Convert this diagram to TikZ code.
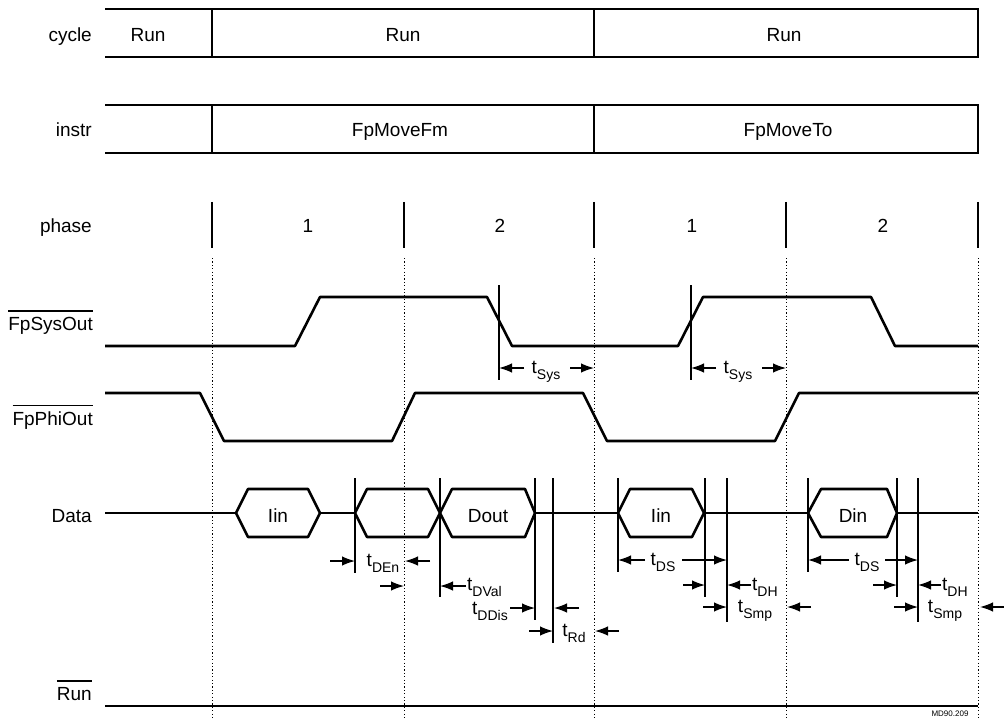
\documentclass[tikz,border=0pt]{standalone}
\usepackage{fontspec}
\setmainfont{Liberation Sans}
\usetikzlibrary{arrows.meta}
\newcommand{\ts}[1]{t\raisebox{-0.36em}{\fontsize{14}{14}\selectfont #1}}
\newcommand{\ovl}[1]{\vbox{\hrule height 1.5pt\kern 5pt\hbox{#1}}}
\begin{document}
\begin{tikzpicture}[x=1pt,y=-1pt,
  font=\fontsize{19}{22}\selectfont,
  sig/.style={line width=2.6pt, line join=round},
  frame/.style={line width=2.1pt},
  tick/.style={line width=2.3pt},
  mk/.style={line width=1.2pt},
  dots/.style={line width=0.9pt, dash pattern=on 1.2pt off 2.2pt},
  dim/.style={line width=1.3pt, -{Latex[length=13pt,width=9.5pt]}},
  lab/.style={anchor=base east, inner sep=0pt},
  txt/.style={anchor=base, inner sep=0pt}]
\useasboundingbox (0,0) rectangle (1004,722);

% row labels
\node[lab] (lcycle) at (92,42) {cycle};
\node[lab] (linstr) at (92,137) {instr};
\node[lab] (lphase) at (92,233) {phase};
\node[lab] (lsys) at (93,330) {\ovl{FpSysOut}};
\node[lab] (lphi) at (93,425) {\ovl{FpPhiOut}};
\node[lab] (ldata) at (92,522) {Data};
\node[lab] (lrun) at (92,700) {\ovl{Run}};

% cycle row
\draw[frame] (105,9) -- (978,9) -- (978,57) -- (105,57);
\draw[frame] (212,9) -- (212,57) (594,9) -- (594,57);
\node[txt] (c1) at (148,42) {Run};
\node[txt] (c2) at (403,42) {Run};
\node[txt] (c3) at (784,42) {Run};

% instr row
\draw[frame] (105,105) -- (978,105) -- (978,153) -- (105,153);
\draw[frame] (212,105) -- (212,153) (594,105) -- (594,153);
\node[txt] (i1) at (400,137) {FpMoveFm};
\node[txt] (i2) at (788,137) {FpMoveTo};

% phase row
\foreach \x in {212,404,594,786,978} \draw[tick] (\x,202) -- (\x,248);
\node[txt] (p1) at (308,233) {1};
\node[txt] (p2) at (500,233) {2};
\node[txt] (p3) at (692,233) {1};
\node[txt] (p4) at (883,233) {2};

% dotted guides
\foreach \x in {212,404,594,786,978} \draw[dots] (\x,258) -- (\x,720);

% FpSysOut
\draw[sig] (105,346) -- (295,346) -- (320,297) -- (487,297) -- (512,346) -- (678,346) -- (703,297) -- (871,297) -- (895,346) -- (978,346);
% FpPhiOut
\draw[sig] (105,393) -- (200,393) -- (224,441) -- (392,441) -- (415,393) -- (583,393) -- (607,441) -- (775,441) -- (799,393) -- (978,393);

% tSys
\draw[mk] (499,285) -- (499,380) (691,285) -- (691,380);
\node[txt] (tsys1) at (546,373) {\ts{Sys}};
\draw[dim] (524,368) -- (499,368);
\draw[dim] (570,368) -- (594,368);
\node[txt] (tsys2) at (738,373) {\ts{Sys}};
\draw[dim] (716,368) -- (691,368);
\draw[dim] (762,368) -- (786,368);

% Data
\draw[sig] (105,513) -- (236,513) (320,513) -- (355,513) (535,513) -- (618,513) (704,513) -- (808,513) (897,513) -- (978,513);
\draw[sig] (236,513) -- (248,489) -- (308,489) -- (320,513) -- (308,537) -- (248,537) -- cycle;
\draw[sig] (355,513) -- (367,489) -- (428,489) -- (440,513) -- (428,537) -- (367,537) -- cycle;
\draw[sig] (440,513) -- (452,489) -- (525,489) -- (535,513) -- (525,537) -- (452,537) -- cycle;
\draw[sig] (618,513) -- (630,489) -- (692,489) -- (704,513) -- (692,537) -- (630,537) -- cycle;
\draw[sig] (808,513) -- (821,489) -- (887,489) -- (897,513) -- (887,537) -- (821,537) -- cycle;
\node[txt] (d1) at (278,522) {Iin};
\node[txt] (d2) at (488,522) {Dout};
\node[txt] (d3) at (661,522) {Iin};
\node[txt] (d4) at (853,522) {Din};

% timing markers
\draw[mk] (355,478) -- (355,573) (440,478) -- (440,597) (535,478) -- (535,620) (553,478) -- (553,643)
          (618,478) -- (618,572) (705,478) -- (705,597) (727,478) -- (727,622)
          (808,478) -- (808,572) (897,478) -- (897,597) (918,478) -- (918,622);

% tDEn
\node[txt] (tden) at (383,566) {\ts{DEn}};
\draw[dim] (330,561) -- (355,561);
\draw[dim] (430,561) -- (405,561);
\draw[dim] (380,586) -- (404,586);
% tDVal
\node[txt, anchor=base west] (tdval) at (467,590) {\ts{DVal}};
\draw[dim] (466,586) -- (440,586);
% tDDis
\node[txt, anchor=base east] (tddis) at (508,614) {\ts{DDis}};
\draw[dim] (510,608) -- (535,608);
\draw[dim] (579,608) -- (554,608);
% tRd
\node[txt] (trd) at (574,636) {\ts{Rd}};
\draw[dim] (529,631) -- (553,631);
\draw[dim] (619,631) -- (595,631);

% tDS / tDH / tSmp (first)
\node[txt] (tds1) at (663,565) {\ts{DS}};
\draw[dim] (645,560) -- (618,560);
\draw[dim] (682,560) -- (727,560);
\node[txt, anchor=base west] (tdh1) at (752,590) {\ts{DH}};
\draw[dim] (683,585) -- (705,585);
\draw[dim] (751,585) -- (727,585);
\node[txt] (tsmp1) at (755,612) {\ts{Smp}};
\draw[dim] (703,607) -- (727,607);
\draw[dim] (811,607) -- (787,607);

% tDS / tDH / tSmp (second)
\node[txt] (tds2) at (867,565) {\ts{DS}};
\draw[dim] (849,560) -- (808,560);
\draw[dim] (885,560) -- (918,560);
\node[txt, anchor=base west] (tdh2) at (942,590) {\ts{DH}};
\draw[dim] (873,585) -- (897,585);
\draw[dim] (941,585) -- (918,585);
\node[txt] (tsmp2) at (945,612) {\ts{Smp}};
\draw[dim] (894,607) -- (918,607);
\draw[dim] (1004,607) -- (980,607);

% Run
\draw[sig] (105,706) -- (978,706);
\node[txt, font=\fontsize{8}{9}\selectfont] (md) at (950,716) {MD90.209};
\end{tikzpicture}
\end{document}
